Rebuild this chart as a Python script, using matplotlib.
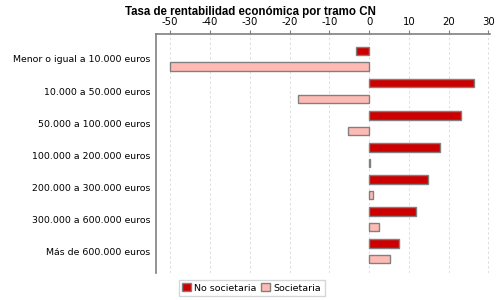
import numpy as np
import matplotlib.pyplot as plt

plt.rcParams["axes.unicode_minus"] = False

# datos
tramos = ["Menor o igual a 10.000 euros", "10.000 a 50.000 euros",
          "50.000 a 100.000 euros", "100.000 a 200.000 euros",
          "200.000 a 300.000 euros", "300.000 a 600.000 euros",
          "Más de 600.000 euros"]
no_societaria = [-3.4, 26.5, 23.0, 17.75, 14.75, 11.75, 7.5]
societaria = [-50.0, -17.9, -5.2, 0.3, 1.0, 2.5, 5.25]
xticks = [-50, -40, -30, -20, -10, 0, 10, 20, 30]

fig = plt.figure(figsize=(5, 3), dpi=100)
ax = fig.add_axes([0.3114, 0.09, 0.6686, 0.7957])

y = np.arange(len(tramos))
h = 0.27
off = 0.245
ax.barh(y - off, no_societaria, height=h, color="#cc0000",
        edgecolor="#808080", linewidth=1, label="No societaria", zorder=3)
ax.barh(y + off, societaria, height=h, color="#ffbbb3",
        edgecolor="#808080", linewidth=1, label="Societaria", zorder=3)

ax.set_xlim(-53.65, 30.4)
ax.set_ylim(6.68, -0.77)
ax.set_xticks(xticks)
ax.set_yticks(y)
ax.set_yticklabels(tramos, fontsize=6.75, family="DejaVu Sans")
ax.xaxis.tick_top()
ax.tick_params(axis="x", labelsize=7.3, colors="#808080", length=3, pad=2,
               labelcolor="black")
ax.tick_params(axis="y", length=0, pad=4)

ax.grid(axis="x", linestyle=(0, (2.5, 2.5)), color="#dddddd", linewidth=0.7, zorder=0)
for s in ["right", "bottom"]:
    ax.spines[s].set_visible(False)
for s in ["left", "top"]:
    ax.spines[s].set_color("#808080")
    ax.spines[s].set_linewidth(1.2)

fig.text(0.5, 0.98, "Tasa de rentabilidad económica por tramo CN",
         ha="center", va="top", fontsize=8.3, fontweight="bold",
         family="Liberation Sans")

leg = fig.legend(loc="lower left", bbox_to_anchor=(0.348, -0.002), ncol=2,
                 frameon=True, fancybox=False, handlelength=0.9,
                 handleheight=0.9, handletextpad=0.4, columnspacing=0.5,
                 borderpad=0.35, prop={"family": "DejaVu Sans", "size": 6.8})
leg.get_frame().set_edgecolor("#cccccc")
leg.get_frame().set_linewidth(1)

plt.savefig("out.png")
